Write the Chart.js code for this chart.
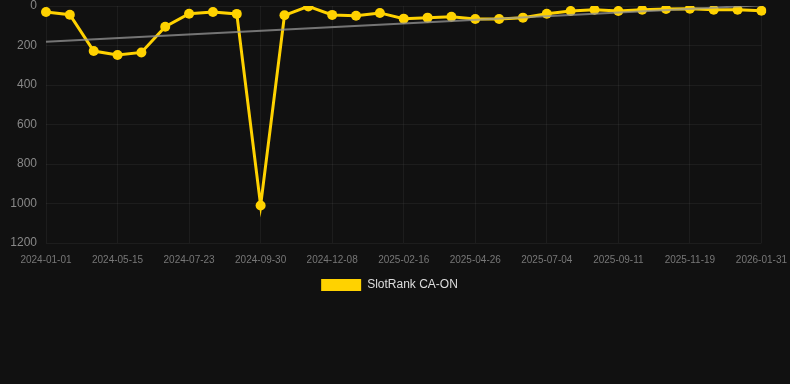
<!DOCTYPE html>
<html>
<head>
<meta charset="utf-8">
<script src="https://cdn.jsdelivr.net/npm/chart.js@4/dist/chart.umd.min.js"></script>
<style>
  html, body { margin: 0; padding: 0; background: #111111; overflow: hidden; }
  #wrap { position: relative; width: 813px; height: 310px; margin-left: -15px; margin-top: -9px; }
</style>
</head>
<body>
<div id="wrap"><canvas id="c"></canvas></div>
<script>
const labels = [
  "2024-01-01","2024-02-15","2024-04-01","2024-05-15","2024-06-07","2024-06-30",
  "2024-07-23","2024-08-15","2024-09-07","2024-09-30","2024-10-23","2024-11-15",
  "2024-12-08","2024-12-31","2025-01-24","2025-02-16","2025-03-11","2025-04-03",
  "2025-04-26","2025-05-19","2025-06-11","2025-07-04","2025-07-27","2025-08-19",
  "2025-09-11","2025-10-04","2025-10-27","2025-11-19","2025-12-12","2026-01-05",
  "2026-01-31"
];
const rankValues = [
  30, 44, 228, 248, 235, 105, 39, 30, 40, 1010, 47, 2,
  45, 49, 35, 64, 59, 54, 66, 66, 59, 39, 25, 19,
  25, 19, 15, 14, 19, 19, 24
];
const trendValues = [
  181, null, null, null, null, null, null, null, null, null, null, null,
  null, null, null, null, null, null, null, null, null, null, null, null,
  null, null, null, null, null, null, -4
];
const yTicks = [0, 200, 400, 600, 800, 1000, 1200];

new Chart(document.getElementById('c'), {
  type: 'line',
  data: {
    labels: labels,
    datasets: [
      {
        label: 'Trend',
        data: trendValues,
        borderColor: 'rgba(150,150,150,0.75)',
        borderWidth: 2,
        pointRadius: 0,
        pointHoverRadius: 0,
        spanGaps: true,
        fill: false,
        order: 0
      },
      {
        label: 'SlotRank CA-ON',
        data: rankValues,
        borderColor: '#FFD200',
        backgroundColor: '#FFD200',
        borderWidth: 3,
        pointRadius: 5,
        pointBackgroundColor: '#FFD200',
        pointBorderColor: '#FFD200',
        pointBorderWidth: 0,
        tension: 0,
        fill: false,
        order: 1
      }
    ]
  },
  options: {
    responsive: true,
    maintainAspectRatio: false,
    animation: false,
    layout: { autoPadding: false, padding: { top: 0, right: 4, left: 0, bottom: 0 } },
    scales: {
      x: {
        grid: { color: 'rgba(255,255,255,0.05)', drawTicks: false },
        border: { display: false },
        ticks: {
          color: '#777777',
          font: { size: 10 },
          maxRotation: 0,
          autoSkip: false,
          padding: 11,
          callback: function(v, i) { return i % 3 === 0 ? labels[i] : null; }
        }
      },
      y: {
        reverse: true,
        min: 0,
        max: 1200,
        afterBuildTicks: function(axis) { axis.ticks = yTicks.map(v => ({ value: v })); },
        afterFit: function(axis) { axis.width = 61; },
        grid: { color: 'rgba(255,255,255,0.05)', drawTicks: false },
        border: { display: false },
        ticks: {
          color: '#888888',
          font: { size: 12, lineHeight: 1 },
          padding: 9,
          callback: function(v) { return String(v); }
        }
      }
    },
    plugins: {
      legend: {
        position: 'bottom',
        labels: {
          color: '#dddddd',
          font: { size: 12 },
          boxWidth: 40,
          boxHeight: 12,
          padding: 2,
          filter: function(item) { return item.text !== 'Trend'; },
          generateLabels: function(chart) {
            const items = Chart.defaults.plugins.legend.labels.generateLabels(chart);
            items.forEach(function(it) { it.lineWidth = 0; it.strokeStyle = 'rgba(0,0,0,0)'; });
            return items;
          }
        }
      },
      tooltip: { enabled: false }
    }
  }
});
</script>
</body>
</html>
